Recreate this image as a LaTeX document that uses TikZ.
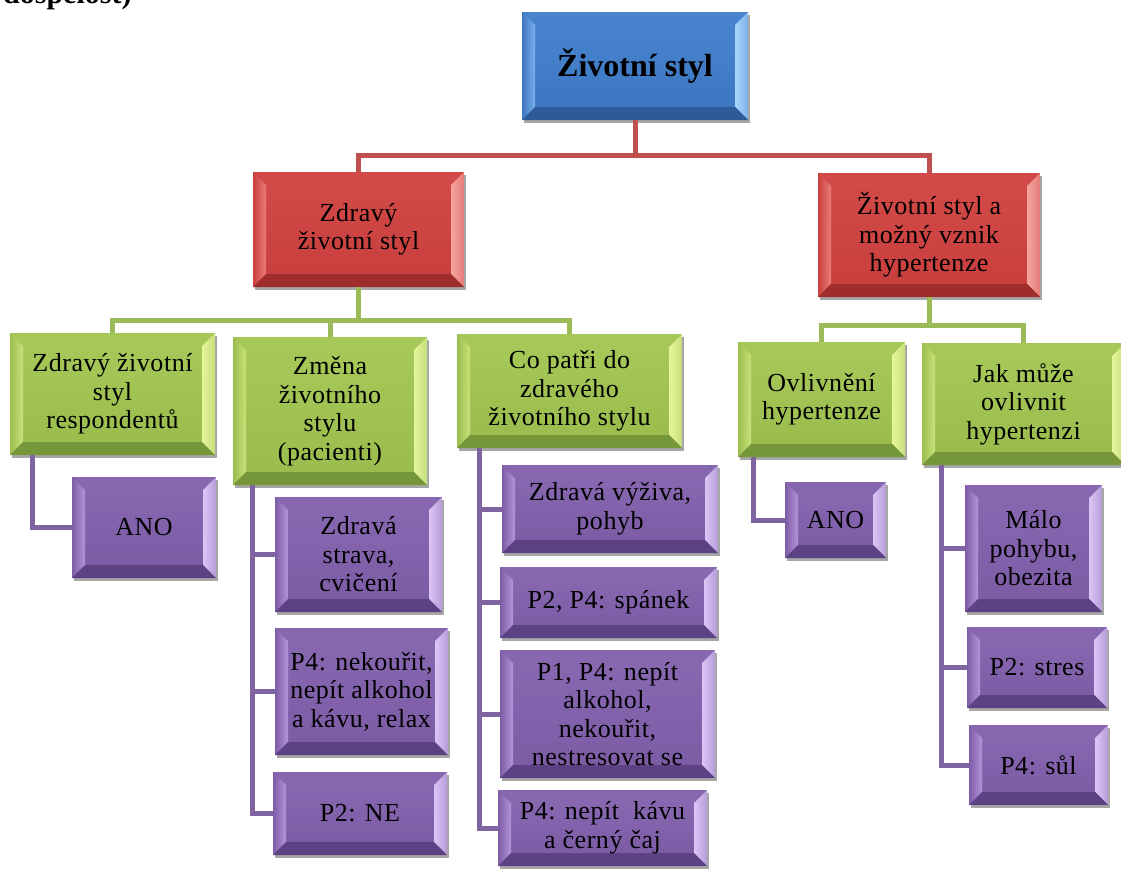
\documentclass[tikz,border=0pt]{standalone}
\usepackage{fontspec}
\setmainfont{Liberation Serif}
\newfontfamily\boxfont{Liberation Serif}[LetterSpace=2]
\usetikzlibrary{shadows,calc}

% face / top / left / right / bottom tones of each bevelled box family
\definecolor{bluF}{HTML}{3D77C2}\definecolor{bluT}{HTML}{4884CE}
\definecolor{bluL}{HTML}{79B0EC}\definecolor{bluR}{HTML}{A9D6FF}
\definecolor{bluB}{HTML}{2D5B98}
\definecolor{redF}{HTML}{C83F3E}\definecolor{redT}{HTML}{D24A48}
\definecolor{redL}{HTML}{EB7C78}\definecolor{redR}{HTML}{F7A5A0}
\definecolor{redB}{HTML}{9E2D2C}
\definecolor{grnF}{HTML}{9ABD4E}\definecolor{grnT}{HTML}{A6C858}
\definecolor{grnL}{HTML}{C9E27A}\definecolor{grnR}{HTML}{E4F59A}
\definecolor{grnB}{HTML}{76963A}
\definecolor{purF}{HTML}{7D5CA6}\definecolor{purT}{HTML}{8667B0}
\definecolor{purL}{HTML}{B394DA}\definecolor{purR}{HTML}{DCC6F7}
\definecolor{purB}{HTML}{5C4283}
\definecolor{redLine}{HTML}{C0504D}
\definecolor{grnLine}{HTML}{9BBB59}
\definecolor{purLine}{HTML}{8064A2}

\tikzset{
  box/.style={rectangle, inner sep=0pt, align=center, text=black,
    font=\boxfont\fontsize{26}{28.5}\selectfont},
  bevel/.style={draw=none, fill=#1F,
    drop shadow={shadow xshift=2pt, shadow yshift=-3pt, opacity=0.35, fill=black},
    path picture={
      \coordinate (NW) at (path picture bounding box.north west);
      \coordinate (NE) at (path picture bounding box.north east);
      \coordinate (SW) at (path picture bounding box.south west);
      \coordinate (SE) at (path picture bounding box.south east);
      \coordinate (NWi) at ([shift={(13,13)}]NW);
      \coordinate (NEi) at ([shift={(-13,13)}]NE);
      \coordinate (SWi) at ([shift={(13,-13)}]SW);
      \coordinate (SEi) at ([shift={(-13,-13)}]SE);
      \shade[top color=#1T, bottom color=#1F] (NWi) rectangle (SEi);
      \fill[#1T] (NW) -- (NE) -- (NEi) -- (NWi) -- cycle;
      \shade[left color=#1F, right color=#1L] (NW) -- (NWi) -- (SWi) -- (SW) -- cycle;
      \shade[left color=#1R, right color=#1R!60!#1F] (NE) -- (NEi) -- (SEi) -- (SE) -- cycle;
      \fill[#1B] (SW) -- (SWi) -- (SEi) -- (SE) -- cycle;
    }},
  redlink/.style={draw=redLine, line width=5pt},
  grnlink/.style={draw=grnLine, line width=5pt},
  purlink/.style={draw=purLine, line width=5pt},
}

\begin{document}
\begin{tikzpicture}[x=1pt, y=-1pt]
\useasboundingbox[fill=white] (0,0) rectangle (1121,876);

% heading line running in from above
\node[anchor=base west, inner sep=0pt, font=\bfseries\fontsize{30}{30}\selectfont] (head) at (3,3.5) {dospělost)};

% root
\node[box, bevel=blu, minimum width=226pt, minimum height=108pt,
      font=\bfseries\fontsize{32}{34}\selectfont] (top) at (635,66) {Životní styl};

% second level
\node[box, bevel=red, minimum width=211pt, minimum height=115pt] (r1) at (358.5,229.5) {Zdravý\\životní styl};
\node[box, bevel=red, minimum width=222pt, minimum height=124pt] (r2) at (929,235) {Životní styl a\\možný vznik\\hypertenze};

% third level
\node[box, bevel=grn, minimum width=205pt, minimum height=122pt] (g1) at (112.5,394) {Zdravý životní\\styl\\respondentů};
\node[box, bevel=grn, minimum width=194pt, minimum height=148pt] (g2) at (330,411) {Změna\\životního\\stylu\\(pacienti)};
\node[box, bevel=grn, minimum width=225pt, minimum height=114pt] (g3) at (569.5,391) {Co patři do\\zdravého\\životního stylu};
\node[box, bevel=grn, minimum width=167pt, minimum height=115pt] (g4) at (821.5,399.5) {Ovlivnění\\hypertenze};
\node[box, bevel=grn, minimum width=203pt, minimum height=122pt] (g5) at (1023.5,404) {Jak může\\ovlivnit\\hypertenzi};

% leaves
\node[box, bevel=pur, minimum width=144pt, minimum height=101pt] (p1) at (144,527.5) {ANO};
\node[box, bevel=pur, minimum width=167pt, minimum height=115pt] (p2) at (358.5,554.5) {Zdravá\\strava,\\cvičení};
\node[box, bevel=pur, minimum width=173pt, minimum height=127pt] (p3) at (361.5,691.5) {P4: nekouřit,\\nepít alkohol\\a kávu, relax};
\node[box, bevel=pur, minimum width=174pt, minimum height=83pt] (p4) at (360,813.5) {P2: NE};
\node[box, bevel=pur, minimum width=216pt, minimum height=88pt] (p5) at (610,509) {Zdravá výživa,\\pohyb};
\node[box, bevel=pur, minimum width=217pt, minimum height=71pt] (p6) at (608.5,602.5) {P2, P4: spánek};
\node[box, bevel=pur, minimum width=215pt, minimum height=128pt] (p7) at (607.5,714) {P1, P4: nepít\\alkohol,\\nekouřit,\\nestresovat se};
\node[box, bevel=pur, minimum width=209pt, minimum height=76pt] (p8) at (602.5,828) {P4: nepít\ \ kávu\\a černý čaj};
\node[box, bevel=pur, minimum width=101pt, minimum height=76pt] (p9) at (835.5,520) {ANO};
\node[box, bevel=pur, minimum width=137pt, minimum height=127pt] (p10) at (1033.5,548.5) {Málo\\pohybu,\\obezita};
\node[box, bevel=pur, minimum width=140pt, minimum height=81pt] (p11) at (1037,667.5) {P2: stres};
\node[box, bevel=pur, minimum width=139pt, minimum height=80pt] (p12) at (1038.5,765) {P4: sůl};

% elbow connectors: root -> second level
\coordinate (rj) at (0,155);
\draw[redlink] (top.south) -- (top.south |- rj) -| (r1.north);
\draw[redlink] (top.south |- rj) -| (r2.north);

% second -> third level
\coordinate (gjl) at (0,320);
\coordinate (gjr) at (0,325);
\draw[grnlink] (r1.south) -- (r1.south |- gjl) -| (g1.north);
\draw[grnlink] (r1.south |- gjl) -| (g2.north);
\draw[grnlink] (r1.south |- gjl) -| (g3.north);
\draw[grnlink] (r2.south) -- (r2.south |- gjr) -| (g4.north);
\draw[grnlink] (r2.south |- gjr) -| (g5.north);

% third level -> leaves (side rails)
\coordinate (s1) at ([xshift=23pt]g1.south west);
\coordinate (s2) at ([xshift=20pt]g2.south west);
\coordinate (s3) at ([xshift=23pt]g3.south west);
\coordinate (s4) at ([xshift=16pt]g4.south west);
\coordinate (s5) at ([xshift=20pt]g5.south west);
\draw[purlink] (s1) |- (p1.west);
\draw[purlink] (s2) |- (p2.west);
\draw[purlink] (s2) |- (p3.west);
\draw[purlink] (s2) |- (p4.west);
\draw[purlink] (s3) |- (p5.west);
\draw[purlink] (s3) |- (p6.west);
\draw[purlink] (s3) |- (p7.west);
\draw[purlink] (s3) |- (p8.west);
\draw[purlink] (s4) |- (p9.west);
\draw[purlink] (s5) |- (p10.west);
\draw[purlink] (s5) |- (p11.west);
\draw[purlink] (s5) |- (p12.west);
\end{tikzpicture}
\end{document}
